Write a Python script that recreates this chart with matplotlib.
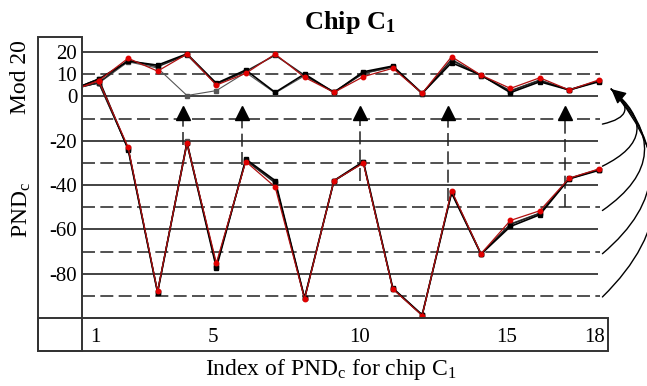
import numpy as np
import matplotlib.pyplot as plt
from matplotlib.patches import Rectangle

plt.rcParams['font.family'] = 'Liberation Serif'
plt.rcParams['mathtext.fontset'] = 'custom'
plt.rcParams['mathtext.rm'] = 'Liberation Serif'
plt.rcParams['mathtext.it'] = 'Liberation Serif:italic'
plt.rcParams['mathtext.bf'] = 'Liberation Serif:bold'

# index 0 sits just left of the visible range
idx = np.arange(19)

pnd_red = [2.2, 7.1, -23.0, -88.0, -21.1, -75.2, -29.4, -40.9, -91.4, -38.0, -30.1,
           -86.9, -98.9, -42.5, -71.0, -56.0, -51.6, -36.9, -32.8]
mod_red = [2.2, 7.1, 17.2, 11.4, 19.1, 5.1, 10.4, 19.1, 8.6, 1.8, 8.9,
           12.7, 1.4, 17.9, 9.6, 3.6, 8.4, 2.9, 7.4]

pnd_k1 = [2.5, 7.8, -24.0, -88.5, -21.0, -77.4, -28.3, -38.0, -91.0, -38.0, -29.4,
          -86.5, -98.6, -43.6, -71.2, -58.7, -53.4, -37.2, -33.4]
mod_k1 = [2.5, 7.8, 15.9, 14.1, 19.2, 5.9, 11.9, 1.8, 10.1, 1.8, 11.1,
          13.7, 1.4, 15.2, 9.6, 1.7, 6.6, 2.9, 6.6]

pnd_k2 = [3.0, 6.2, -23.5, -88.2, -21.2, -76.3, -28.8, -39.0, -91.2, -38.1, -29.8,
          -86.7, -98.7, -43.0, -71.0, -57.8, -52.8, -37.0, -33.0]
mod_k2 = [3.0, 6.2, 16.3, 13.4, 18.8, 5.5, 11.3, 18.6, 9.5, 2.0, 10.5,
          13.4, 1.3, 16.6, 9.4, 2.4, 7.2, 3.0, 7.0]

pnd_k3 = [3.5, 6.0, -23.7, -88.4, -20.0, -76.8, -29.0, -38.5, -90.8, -38.2, -30.0,
          -86.8, -98.8, -43.3, -71.3, -57.5, -52.6, -37.3, -33.2]
mod_k3 = [3.5, 6.0, 15.6, 12.8, 0.4, 2.6, 10.8, 1.5, 9.3, 1.8, 10.3,
          13.2, 1.2, 16.2, 9.3, 2.6, 7.5, 2.7, 6.9]

solid_levels = [20, 0, -20, -40, -60, -80]
dashed_levels = [10, -10, -30, -50, -70, -90]
ytick_vals = [20, 10, 0, -20, -40, -60, -80]
xtick_vals = [1, 5, 10, 15, 18]

arrow_idx = [4, 6, 10, 13, 17]
arrow_low = [-22, -31, -38, -47, -50]
curve_start = [-12.5, -31.5, -51.5, -71, -90.5]
curve_rad = [1.0, 0.78, 0.62, 0.53, 0.47]

fig = plt.figure(figsize=(6.47, 3.86), dpi=100)
ax = fig.add_axes([82 / 647, 1 - 318 / 386, 526 / 647, 281 / 386])
xl = (0.43, 18.32)
ax.set_xlim(*xl)
ax.set_ylim(-100, 26.8)
for s in ax.spines.values():
    s.set_visible(False)

dash = (0, (8.5, 3.5))
ax.hlines(solid_levels, xl[0], 17.97, colors='#222222', lw=1.2, zorder=1)
ax.hlines(dashed_levels, xl[0], 18.05, colors='#222222', lw=1.1, linestyles=[dash], zorder=1)

shift = -0.13
ax.vlines(np.array(arrow_idx) + shift, arrow_low, -10, colors='#222222', lw=1.1,
          linestyles=[dash], zorder=1)
ax.plot(np.array(arrow_idx) + shift, [-7.5] * len(arrow_idx), '^', ms=10.5,
        color='black', zorder=5)

for p, m, c, lw in [(pnd_k3, mod_k3, '#555555', 0.8), (pnd_k2, mod_k2, '#222222', 1.1),
                    (pnd_k1, mod_k1, 'black', 1.2)]:
    ax.plot(idx, p, '-s', color=c, lw=lw, ms=2.8, zorder=3)
    ax.plot(idx, m, '-s', color=c, lw=lw, ms=2.8, zorder=3)
ax.plot(idx, pnd_red, '-', color='#b01010', lw=0.9, zorder=4)
ax.plot(idx, mod_red, '-', color='#b01010', lw=0.9, zorder=4)
ax.plot(idx, pnd_red, 'o', color='#e00000', ms=3.2, zorder=4)
ax.plot(idx, mod_red, 'o', color='#e00000', ms=3.2, zorder=4)

tip = (18.43, 3.3)
for i, (y0, rad) in enumerate(zip(curve_start, curve_rad)):
    ax.annotate('', xy=tip, xytext=(18.13, y0), annotation_clip=False,
                arrowprops=dict(arrowstyle='-|>' if i == 0 else '-', color='black',
                                lw=1.0, shrinkA=0, shrinkB=0, mutation_scale=22,
                                connectionstyle='arc3,rad=%s' % rad))

ax.set_xticks(np.array(xtick_vals) + shift)
ax.set_xticklabels([str(v) for v in xtick_vals])
ax.set_yticks(ytick_vals)
ax.set_yticklabels([str(v) for v in ytick_vals])
ax.tick_params(axis='both', length=0, labelsize=15)
ax.tick_params(axis='x', pad=7)
ax.tick_params(axis='y', pad=3.5)

fig.patches.append(Rectangle((38 / 647, 1 - 351 / 386), 44 / 647, 314 / 386,
                             transform=fig.transFigure, fill=False, lw=1.4, ec='#333333'))
fig.patches.append(Rectangle((38 / 647, 1 - 351 / 386), 570 / 647, 33 / 386,
                             transform=fig.transFigure, fill=False, lw=1.4, ec='#333333'))

fig.text(350 / 647, 1 - 29 / 386, r'Chip C$_\mathbf{1}$', ha='center', va='baseline',
         fontsize=19, fontweight='bold')
fig.text(20 / 647, 1 - 77 / 386, 'Mod 20', rotation=90, ha='center', va='center', fontsize=17)
fig.text(22 / 647, 1 - 210 / 386, r'PND$_\mathrm{c}$', rotation=90, ha='center', va='center',
         fontsize=17)
fig.text(331 / 647, 1 - 375 / 386, r'Index of PND$_\mathrm{c}$ for chip C$_\mathrm{1}$',
         ha='center', va='baseline', fontsize=17)

fig.savefig('out.png', dpi=100)
